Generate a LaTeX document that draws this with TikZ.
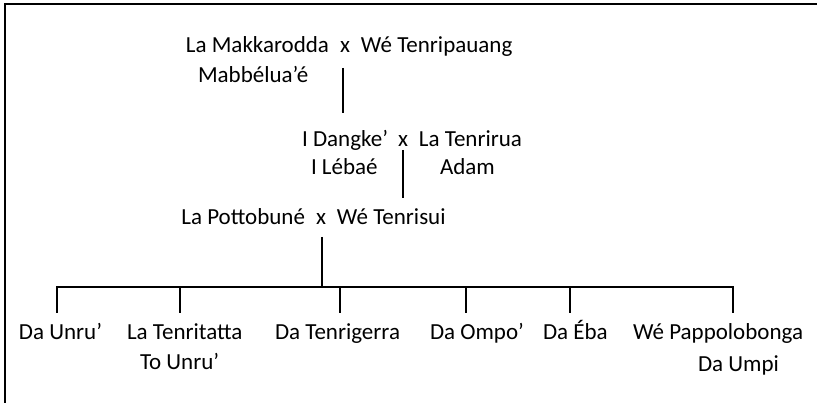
\documentclass[tikz,border=0pt]{standalone}
\usepackage{fontspec}
\setmainfont{Carlito}
\begin{document}
\begin{tikzpicture}[x=1pt,y=-1pt,
  txt/.style={inner sep=0pt,outer sep=0pt,anchor=base west,font=\fontsize{23}{28}\selectfont},
  xsign/.style={inner sep=0pt,outer sep=0pt,anchor=base,font=\fontsize{23}{28}\selectfont},
  lname/.style={inner sep=0pt,outer sep=0pt,anchor=base east,font=\fontsize{23}{28}\selectfont},
  link/.style={line width=2pt},
  frame/.style={line width=1.4pt}]
\useasboundingbox (0,0) rectangle (817,403);
\draw[frame] (5,403) -- (5,4) -- (817,4);
% generation 1
\node[xsign] (x1) at (345,53) {x};
\node[lname] (m1) at ([xshift=-11pt]x1.base west) {La Makkarodda};
\node[txt] (f1) at ([xshift=11pt]x1.base east) {Wé Tenripauang};
\node[txt] (m1b) at (198,83) {Mabbélua’é};
% generation 2
\node[xsign] (x2) at (403,147) {x};
\node[lname] (m2) at ([xshift=-10pt]x2.base west) {I Dangke’};
\node[txt] (f2) at ([xshift=11pt]x2.base east) {La Tenrirua};
\node[txt] (m2b) at (311,175) {I Lébaé};
\node[txt] (f2b) at (440,175) {Adam};
% generation 3
\node[xsign] (x3) at (321,225) {x};
\node[lname] (m3) at ([xshift=-11pt]x3.base west) {La Pottobuné};
\node[txt] (f3) at ([xshift=11pt]x3.base east) {Wé Tenrisui};
% children
\node[txt] (c1) at (19,340) {Da Unru’};
\node[txt] (c2) at (127,340) {La Tenritatta};
\node[txt] (c2b) at (140,370) {To Unru’};
\node[txt] (c3) at (275,340) {Da Tenrigerra};
\node[txt] (c4) at (430,340) {Da Ompo’};
\node[txt] (c5) at (543,340) {Da Éba};
\node[txt] (c6) at (633,340) {Wé Pappolobonga};
\node[txt] (c6b) at (698,371) {Da Umpi};
% connectors
\coordinate (a1) at (343,68);
\coordinate (b1) at (343,113);
\coordinate (a2) at (403,150);
\coordinate (b2) at (403,198);
\coordinate (a3) at (322,237);
\coordinate (bar) at (322,287);
\coordinate (k1) at (57,313);
\coordinate (k2) at (180,313);
\coordinate (k3) at (340,313);
\coordinate (k4) at (466,313);
\coordinate (k5) at (570,313);
\coordinate (k6) at (733,313);
\draw[link] (a1) -- (b1);
\draw[link] (a2) -- (b2);
\draw[link] (a3) -- (bar);
\draw[link] (k1) -- (k1 |- bar) -- (k6 |- bar) -- (k6);
\foreach \k in {k2,k3,k4,k5} \draw[link] (\k) -- (\k |- bar);
\end{tikzpicture}
\end{document}
